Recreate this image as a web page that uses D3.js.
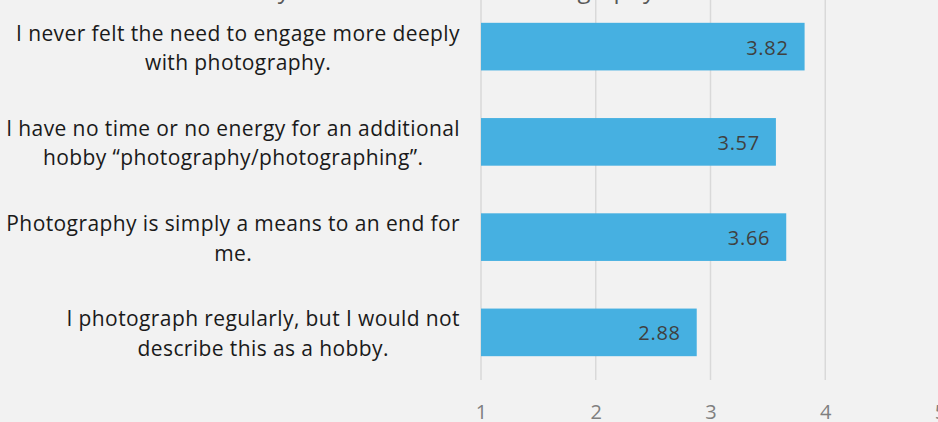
<!DOCTYPE html>
<html>
<head>
<meta charset="utf-8">
<script src="https://cdn.jsdelivr.net/npm/d3@7"></script>
<style>
  html, body { margin: 0; padding: 0; background: #f2f2f2; }
  svg { display: block; }
</style>
</head>
<body>
<svg id="chart" width="938" height="422"></svg>
<script>
// Statements (top to bottom), line breaks as shown on the axis
const categories = [
  "I never felt the need to engage more deeply\nwith photography.",
  "I have no time or no energy for an additional\nhobby \u201cphotography/photographing\u201d.",
  "Photography is simply a means to an end for\nme.",
  "I photograph regularly, but I would not\ndescribe this as a hobby."
];
// Mean agreement values
const values = [3.82, 3.57, 3.66, 2.88];
// Value axis ticks
const tickValues = [1, 2, 3, 4, 5];
const tickLabels = ["1", "2", "3", "4", "5"];
const titleText = "Why I am not more into Photography";

const W = 938, H = 422;
const FONT = "'Open Sans', 'Noto Sans', sans-serif";
const plot = { left: 481, right: 940, top: -1, bottom: 380 };

const svg = d3.select("#chart");
svg.append("rect").attr("width", W).attr("height", H).attr("fill", "#f2f2f2");

const x = d3.scaleLinear().domain([1, 5]).range([plot.left, plot.right]);
const y = d3.scaleBand().domain(categories).range([plot.top, plot.bottom])
  .paddingInner(0.5).paddingOuter(0.25);

// Title (sits mostly above the visible area)
svg.append("text")
  .attr("x", 655).attr("y", -2)
  .attr("text-anchor", "end")
  .attr("font-family", FONT).attr("font-size", 24)
  .attr("fill", "#595959")
  .text(titleText);

// Vertical gridlines
svg.append("g").selectAll("line").data(tickValues).join("line")
  .attr("x1", d => x(d)).attr("x2", d => x(d))
  .attr("y1", plot.top).attr("y2", plot.bottom)
  .attr("stroke", "#d9d9d9").attr("stroke-width", 1.5);

// Bars, starting from the axis minimum
svg.append("g").selectAll("rect").data(values).join("rect")
  .attr("x", x(1))
  .attr("y", (d, i) => y(categories[i]))
  .attr("width", d => x(d) - x(1))
  .attr("height", y.bandwidth())
  .attr("fill", "#46b0e1");

// Value labels inside the bar ends
svg.append("g").selectAll("text").data(values).join("text")
  .attr("x", d => x(d) - 16)
  .attr("y", (d, i) => y(categories[i]) + y.bandwidth() / 2 + 8)
  .attr("text-anchor", "end")
  .attr("font-family", FONT).attr("font-size", 20)
  .attr("letter-spacing", 0.7)
  .attr("fill", "#404040")
  .text(d => d.toFixed(2));

// X axis tick labels
const xAxis = d3.axisBottom(x).tickValues(tickValues)
  .tickFormat((d, i) => tickLabels[i]).tickSize(0).tickPadding(0);
const gx = svg.append("g").call(xAxis);
gx.select(".domain").remove();
gx.selectAll("text")
  .attr("y", 419).attr("dy", null)
  .attr("font-family", FONT).attr("font-size", 20)
  .attr("fill", "#7f7f7f");

// Category labels: block right-aligned, lines centred within the block
const labelRight = 460;
const lineH = 29.5;
const catG = svg.append("g");
categories.forEach((c, i) => {
  const lines = c.split("\n");
  const cy = y(c) + y.bandwidth() / 2;
  const t = catG.append("text")
    .attr("font-family", FONT).attr("font-size", 21)
    .attr("letter-spacing", 0.4)
    .attr("fill", "#1a1a1a")
    .attr("text-anchor", "middle");
  const spans = lines.map((ln, k) => t.append("tspan")
    .attr("y", cy - 6 + k * lineH).text(ln));
  const widest = d3.max(spans, s => s.node().getComputedTextLength());
  spans.forEach(s => s.attr("x", labelRight - widest / 2));
});
</script>
</body>
</html>
